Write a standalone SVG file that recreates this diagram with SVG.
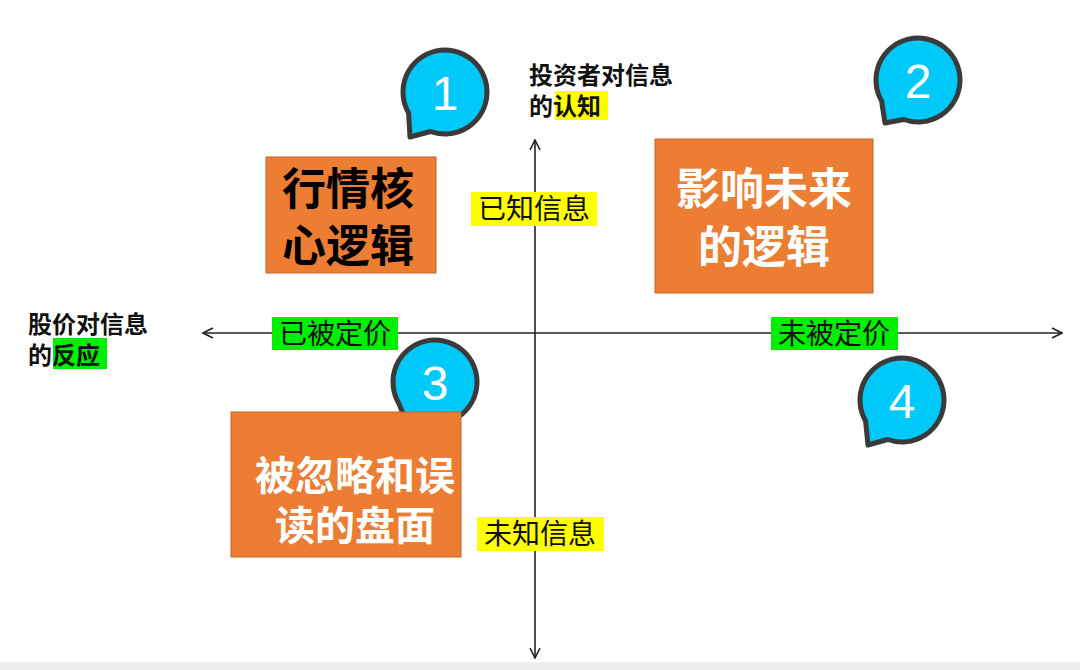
<svg xmlns="http://www.w3.org/2000/svg" width="1080" height="670" viewBox="0 0 1080 670">
<defs>
<style>
text{font-family:"Noto Sans CJK SC","Liberation Sans",sans-serif}
.ax{stroke:#222;stroke-width:1.6;fill:none}
.bub{fill:#00c8f8;stroke:#3a3a3a;stroke-width:5;stroke-linejoin:round}
.num{fill:#fff;font-family:"Liberation Sans",sans-serif;font-size:48px;text-anchor:middle}
.box{fill:#ec7d32;stroke:#c0652a;stroke-width:1}
.bt{font-weight:bold;text-anchor:middle}
.lab{font-size:28px;text-anchor:middle;fill:#111}
.ttl{font-size:24px;font-weight:bold;fill:#111}
</style>
<marker id="ah" viewBox="0 0 12 12" refX="11" refY="6" markerWidth="12" markerHeight="12" markerUnits="userSpaceOnUse" orient="auto-start-reverse"><path d="M1,1 L11,6 L1,11" fill="none" stroke="#222" stroke-width="1.6"/></marker>
</defs>
<rect width="1080" height="670" fill="#fff"/>
<rect x="0" y="662" width="1080" height="8" fill="#eeeeee"/>
<g id="connectors">
<line class="ax" x1="203" y1="333" x2="1062" y2="333" marker-start="url(#ah)" marker-end="url(#ah)"/>
<line class="ax" x1="535" y1="658" x2="535" y2="140" marker-start="url(#ah)" marker-end="url(#ah)"/>
</g>
<g id="title-y"><text class="ttl" x="529" y="84">投资者对信息</text><rect x="555" y="91" width="53" height="29" fill="#ffff00"/><text class="ttl" x="529" y="115">的认知</text></g>
<g id="title-x"><text class="ttl" x="28" y="333">股价对信息</text><rect x="53" y="338" width="54" height="31" fill="#00ee00"/><text class="ttl" x="28" y="364">的反应</text></g>
<g id="known"><rect x="471" y="192" width="126" height="34" fill="#ffff00"/><text class="lab" x="534" y="219">已知信息</text></g>
<g id="unknown"><rect x="477" y="517" width="127" height="34" fill="#ffff00"/><text class="lab" x="540" y="544">未知信息</text></g>
<g id="priced"><rect x="272" y="317" width="126" height="33" fill="#00ee00"/><text class="lab" x="335" y="344">已被定价</text></g>
<g id="unpriced"><rect x="771" y="317" width="127" height="33" fill="#00ee00"/><text class="lab" x="834" y="344">未被定价</text></g>
<g id="b1"><path class="bub" d="M430.6,131.5 L410,137 L408.6,113 A42,42 0 1 1 430.6,131.5 Z"/><text class="num" x="445" y="110">1</text></g>
<g id="b2"><path class="bub" d="M903.6,119.5 L885,123 L881.6,101 A42,42 0 1 1 903.6,119.5 Z"/><text class="num" x="918" y="98">2</text></g>
<g id="b3"><path class="bub" d="M420.6,421.5 L410,430 L398.6,403 A42,42 0 1 1 420.6,421.5 Z"/><text class="num" x="435" y="400">3</text></g>
<g id="b4"><path class="bub" d="M887.6,439.5 L868,445 L865.6,421 A42,42 0 1 1 887.6,439.5 Z"/><text class="num" x="902" y="418">4</text></g>
<g id="box1"><rect class="box" x="266" y="157" width="170" height="116"/><text class="bt" x="348" y="205" font-size="44" fill="#000">行情核</text><text class="bt" x="348" y="262" font-size="44" fill="#000">心逻辑</text></g>
<g id="box2"><rect class="box" x="655" y="139" width="218" height="154"/><text class="bt" x="764" y="205" font-size="44" fill="#fff">影响未来</text><text class="bt" x="764" y="263" font-size="44" fill="#fff">的逻辑</text></g>
<g id="box3"><rect class="box" x="231" y="412" width="230" height="145"/><text class="bt" x="355" y="490" font-size="40" fill="#fff">被忽略和误</text><text class="bt" x="355" y="540" font-size="40" fill="#fff">读的盘面</text></g>
</svg>
